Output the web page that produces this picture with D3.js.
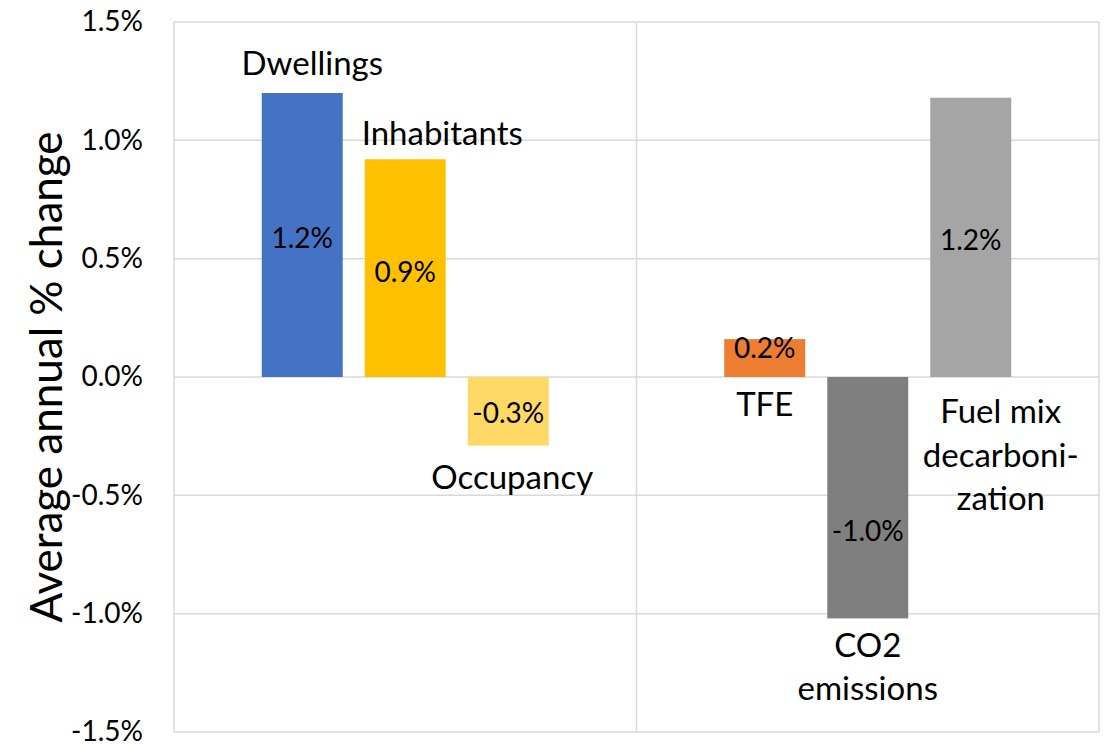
<!DOCTYPE html>
<html>
<head>
<meta charset="utf-8">
<script src="https://cdn.jsdelivr.net/npm/d3@7"></script>
<style>
    body { margin: 0; background: #fff; }
    text { font-family: Lato, "Open Sans", sans-serif; fill: #000; }
</style>
</head>
<body>
<div id="chart"></div>
<script>
// groups on the x axis (names not shown in the chart)
const groups = ["Activity", "Emissions"];
// bars, their group and their average annual change (fraction)
const seriesNames = ["Dwellings", "Inhabitants", "Occupancy", "TFE", "CO2 emissions", "Fuel mix decarbonization"];
const seriesGroup = [0, 0, 0, 1, 1, 1];
const seriesValues = [0.0120, 0.0092, -0.0029, 0.0016, -0.0102, 0.0118];
// name label text, split into lines
const nameLines = [["Dwellings"], ["Inhabitants"], ["Occupancy"], ["TFE"], ["CO2", "emissions"], ["Fuel mix", "decarboni-", "zation"]];
const yTicks = [-0.015, -0.010, -0.005, 0, 0.005, 0.010, 0.015];

const colors = ["#4472C4", "#FFC000", "#FFD966", "#ED7D31", "#7F7F7F", "#A5A5A5"];
// where the name labels sit: value-axis position of the text block centre, x shift from bar centre
const nameAt = [0.0133, 0.01035, -0.0042, -0.00108, -0.01219, -0.00325];
const nameDx = [10, 37, 4, 0, 0, 30];
// small nudges of value labels (px)
const valueDy = [2, 3, 1, -11, 32, 2];

const width = 1110, height = 745;
const margin = { top: 22, right: 11, bottom: 13, left: 174 },
    pw = width - margin.left - margin.right,
    ph = height - margin.top - margin.bottom;

const fmt = d3.formatLocale({ decimal: ".", thousands: ",", grouping: [3], currency: ["", ""], minus: "-" }).format(".1%");

const svg = d3.select("#chart").append("svg")
    .attr("width", width)
    .attr("height", height);
const g = svg.append("g").attr("transform", "translate(" + margin.left + "," + margin.top + ")");

const x0 = d3.scaleBand().domain(d3.range(groups.length)).range([0, pw]);
const x1 = d3.scaleBand().domain([0, 1, 2]).range([0, x0.bandwidth()])
    .paddingInner(0.214).paddingOuter(0.852);
const y = d3.scaleLinear().domain([-0.015, 0.015]).range([ph, 0]);

const bars = seriesNames.map((name, i) => {
    const slot = i - seriesGroup.indexOf(seriesGroup[i]);
    return { name, i, value: seriesValues[i], x: x0(seriesGroup[i]) + x1(slot) };
});

// gridlines and plot frame
g.append("g").selectAll("line").data(yTicks).join("line")
    .attr("x1", 0).attr("x2", pw)
    .attr("y1", d => y(d)).attr("y2", d => y(d))
    .attr("stroke", "#d9d9d9").attr("stroke-width", 1.5);
g.append("g").selectAll("line").data(d3.range(groups.length + 1)).join("line")
    .attr("x1", d => d < groups.length ? x0(d) : pw)
    .attr("x2", d => d < groups.length ? x0(d) : pw)
    .attr("y1", 0).attr("y2", ph)
    .attr("stroke", "#d9d9d9").attr("stroke-width", 1.5);

// y axis labels
const yAxis = g.append("g")
    .call(d3.axisLeft(y).tickValues(yTicks).tickFormat(fmt).tickSize(0).tickPadding(31));
yAxis.select(".domain").remove();
yAxis.selectAll("text").style("font-size", "28px").attr("font-family", null);

// bars
g.append("g").selectAll("rect").data(bars).join("rect")
    .attr("x", d => d.x)
    .attr("width", x1.bandwidth())
    .attr("y", d => y(Math.max(0, d.value)))
    .attr("height", d => Math.abs(y(d.value) - y(0)))
    .attr("fill", d => colors[d.i]);

// value labels
g.append("g").selectAll("text").data(bars).join("text")
    .attr("x", d => d.x + x1.bandwidth() / 2)
    .attr("y", d => (y(d.value) + y(0)) / 2 + valueDy[d.i])
    .attr("text-anchor", "middle")
    .attr("dominant-baseline", "central")
    .style("font-size", "28px")
    .text(d => fmt(d.value));

// name labels
const lh = 43.5;
g.append("g").selectAll("text").data(bars).join("text")
    .attr("text-anchor", "middle")
    .style("font-size", "33px")
    .each(function (d) {
        const lines = nameLines[d.i];
        const cx = d.x + x1.bandwidth() / 2 + nameDx[d.i];
        const cy = y(nameAt[d.i]) - (lines.length - 1) * lh / 2;
        d3.select(this).selectAll("tspan").data(lines).join("tspan")
            .attr("x", cx)
            .attr("y", (l, k) => cy + k * lh)
            .attr("dominant-baseline", "central")
            .text(l => l);
    });

// axis title
svg.append("text")
    .attr("transform", "translate(45," + (margin.top + ph / 2) + ") rotate(-90)")
    .attr("text-anchor", "middle")
    .attr("dominant-baseline", "central")
    .style("font-size", "44px")
    .text("Average annual % change");
</script>
</body>
</html>
